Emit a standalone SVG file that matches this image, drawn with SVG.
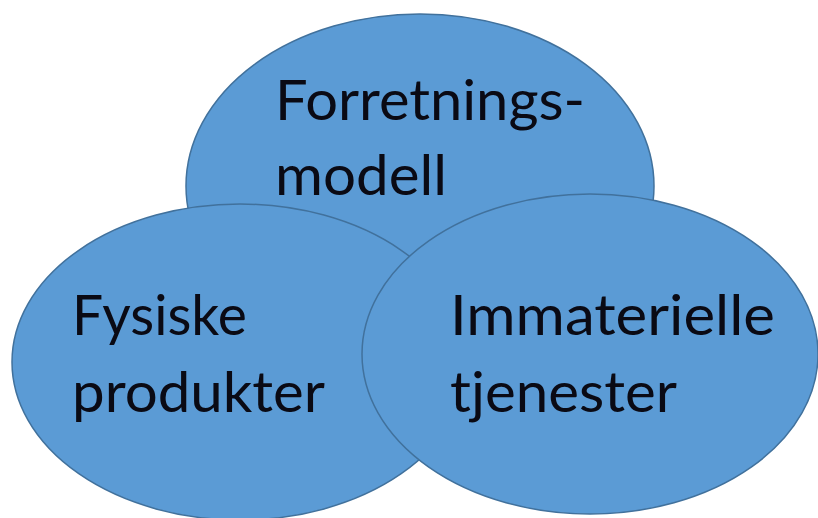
<svg xmlns="http://www.w3.org/2000/svg" width="818" height="518" viewBox="0 0 818 518">
<style>
.c{fill:#5b9bd5;stroke:#41719c;stroke-width:1.5}
.t{font-family:Lato,"Open Sans","Liberation Sans",sans-serif;font-size:56px;fill:#0a0a14}
</style>
<rect width="818" height="518" fill="#fff"/>
<g id="forretningsmodell">
<ellipse class="c" cx="420" cy="186" rx="234" ry="172"/>
<text class="t" x="275" y="120" textLength="310" lengthAdjust="spacingAndGlyphs">Forretnings-</text>
<text class="t" x="275" y="195" textLength="172" lengthAdjust="spacingAndGlyphs">modell</text>
</g>
<g id="fysiske">
<ellipse class="c" cx="240" cy="362" rx="228" ry="158"/>
<text class="t" x="72" y="335" textLength="175" lengthAdjust="spacingAndGlyphs">Fysiske</text>
<text class="t" x="72" y="412" textLength="253" lengthAdjust="spacingAndGlyphs">produkter</text>
</g>
<g id="immaterielle">
<ellipse class="c" cx="590" cy="354" rx="228" ry="160"/>
<text class="t" x="450" y="335" textLength="325" lengthAdjust="spacingAndGlyphs">Immaterielle</text>
<text class="t" x="450" y="412" textLength="227" lengthAdjust="spacingAndGlyphs">tjenester</text>
</g>
<g id="connectors"/>
</svg>
